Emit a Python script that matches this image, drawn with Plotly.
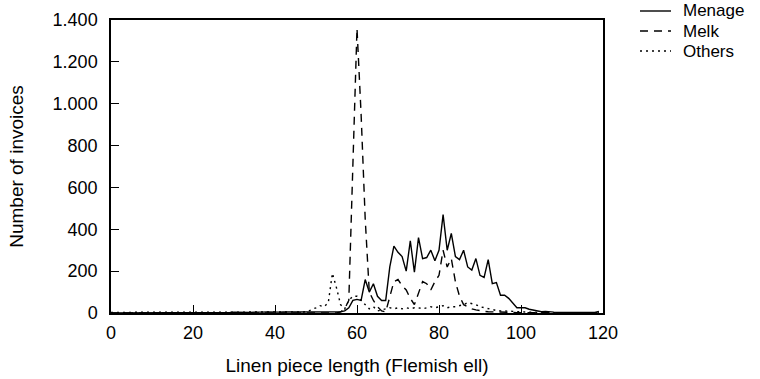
import plotly.graph_objects as go

lengths = list(range(0, 120))

menage_vals = [
    0, 0, 0, 0, 0, 0, 0, 0, 0, 0,           # 0-9
    0, 0, 0, 0, 0, 0, 0, 0, 0, 0,           # 10-19
    0, 0, 0, 0, 0, 0, 0, 0, 2, 3,           # 20-29
    4, 3, 2, 2, 3, 4, 3, 4, 5, 4,           # 30-39
    3, 4, 5, 5, 4, 5, 4, 5, 5, 4,           # 40-49
    4, 5, 5, 5, 6, 5, 6, 10, 25, 60,        # 50-59
    65, 60, 160, 100, 140, 80, 60, 60, 220, 320,  # 60-69
    290, 270, 200, 345, 195, 360, 260, 265, 300, 250,  # 70-79
    300, 470, 300, 380, 270, 255, 300, 220, 205, 260,  # 80-89
    180, 170, 255, 140, 145, 85, 85, 70, 50, 25,  # 90-99
    25, 25, 18, 14, 10, 6, 8, 5, 4, 3,      # 100-109
    3, 2, 2, 2, 2, 2, 2, 2, 3, 8,           # 110-119
]

melk_vals = [
    0, 0, 0, 0, 0, 0, 0, 0, 0, 0,
    0, 0, 0, 0, 0, 0, 0, 0, 0, 0,
    0, 0, 0, 0, 0, 0, 0, 0, 0, 0,
    0, 0, 0, 0, 0, 0, 0, 0, 0, 0,
    0, 0, 0, 0, 0, 0, 0, 0, 0, 0,
    0, 0, 0, 0, 0, 0, 5, 20, 60, 700,
    1360, 950, 450, 100, 60, 30, 10, 5, 80, 150,
    160, 130, 110, 70, 40, 100, 150, 140, 110, 150,
    180, 300, 220, 260, 150, 80, 40, 30, 20, 15,
    10, 8, 6, 5, 4, 3, 3, 2, 2, 2,
    2, 1, 1, 1, 1, 1, 1, 1, 1, 1,
    1, 1, 1, 1, 1, 1, 1, 1, 1, 1,
]

others_vals = [
    3, 3, 3, 3, 3, 3, 3, 3, 3, 3,
    3, 3, 3, 3, 3, 3, 3, 3, 3, 3,
    3, 3, 3, 3, 3, 3, 3, 3, 3, 3,
    3, 3, 3, 3, 3, 3, 3, 3, 3, 3,
    3, 3, 3, 3, 3, 3, 3, 5, 8, 15,
    25, 35, 30, 50, 190, 120, 40, 20, 60, 80,
    80, 60, 40, 20, 30, 10, 15, 20, 25, 20,
    25, 20, 25, 20, 25, 25, 20, 25, 30, 25,
    30, 35, 25, 30, 30, 35, 40, 50, 45, 40,
    30, 25, 20, 15, 12, 10, 10, 8, 8, 6,
    5, 4, 4, 3, 3, 3, 2, 2, 2, 2,
    2, 2, 2, 2, 2, 2, 2, 2, 2, 2,
]

series_names = ["Menage", "Melk", "Others"]
y_tick_vals = [0, 200, 400, 600, 800, 1000, 1200, 1400]
y_tick_text = ["0", "200", "400", "600", "800", "1.000", "1.200", "1.400"]
x_tick_vals = [0, 20, 40, 60, 80, 100, 120]

font_family = "Liberation Sans, Arial, Helvetica, sans-serif"
dashes = ["solid", "8px,6px", "2px,4px"]

W, H = 760, 379
ML, MR, MT, MB = 111, 157, 20, 66
PW, PH = W - ML - MR, H - MT - MB


def px_to_paper(px, py):
    return (px - ML) / PW, (H - MB - py) / PH


fig = go.Figure()
for name, vals, dash in zip(series_names, [menage_vals, melk_vals, others_vals], dashes):
    fig.add_trace(go.Scatter(x=lengths, y=vals, name=name, mode="lines",
                             showlegend=False,
                             line=dict(color="black", width=1.4, dash=dash)))

# manual legend (line samples + labels) to the right of the plot
legend_rows_py = [11, 31, 51]
for name, dash, py in zip(series_names, dashes, legend_rows_py):
    x0, yy = px_to_paper(640, py)
    x1, _ = px_to_paper(671, py)
    fig.add_shape(type="line", xref="paper", yref="paper", x0=x0, x1=x1, y0=yy, y1=yy,
                  line=dict(color="black", width=1.4, dash=dash))
    xt, _ = px_to_paper(682, py)
    fig.add_annotation(xref="paper", yref="paper", x=xt, y=yy, text=name,
                       showarrow=False, xanchor="left", yanchor="middle",
                       borderpad=0,
                       font=dict(family=font_family, size=17, color="black"))

axis_common = dict(showline=True, linecolor="black", linewidth=1.5, mirror=True,
                   ticks="inside", ticklen=8, tickwidth=1.2, tickcolor="black",
                   showgrid=False, zeroline=False,
                   tickfont=dict(family=font_family, size=18, color="black"))

fig.update_layout(
    width=W, height=H,
    margin=dict(l=ML, r=MR, t=MT, b=MB, autoexpand=False),
    paper_bgcolor="white", plot_bgcolor="white",
    font=dict(family=font_family, size=18, color="black"),
    showlegend=False,
    xaxis=dict(range=[0, 120], tickvals=x_tick_vals, ticklabelstandoff=3,
               title=dict(text="Linen piece length (Flemish ell)", standoff=16,
                          font=dict(family=font_family, size=19)),
               **axis_common),
    yaxis=dict(range=[0, 1400], tickvals=y_tick_vals, ticktext=y_tick_text,
               ticklabelstandoff=8,
               title=dict(text="Number of invoices", standoff=24,
                          font=dict(family=font_family, size=19)),
               **axis_common),
)

fig.write_html("out.html", config={"displayModeBar": False},
               post_script="document.body.style.margin='0';")
